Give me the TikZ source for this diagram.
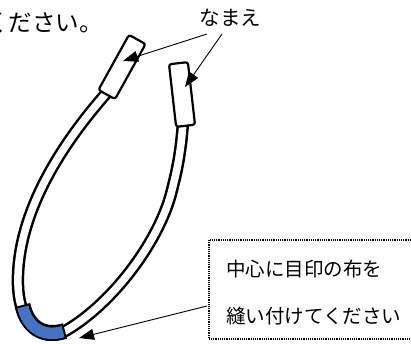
\documentclass[tikz,border=0pt]{standalone}
\usepackage{fontspec}
\newfontfamily\jp{Noto Sans CJK JP}
\usetikzlibrary{arrows.meta}
\definecolor{patchblue}{RGB}{68,114,196}
\begin{document}
\begin{tikzpicture}[x=1pt,y=-1pt,
  tag/.style={draw,line width=2.2pt,fill=white,rounded corners=2.5pt,
              minimum width=19pt,minimum height=63pt,inner sep=0pt},
  pointer/.style={line width=0.9pt,-{Triangle[length=15pt,width=11pt]}},
  bandout/.style={line width=12.5pt,black},
  bandin/.style={line width=7.5pt,white},
  notebox/.style={draw,line width=1.6pt,dash pattern=on 1.2pt off 1pt,
                  minimum width=210pt,minimum height=99pt,inner sep=0pt,anchor=north west},
  txt/.style={inner sep=0pt}]
\useasboundingbox (0,0) rectangle (411,344);
\def\bandpath{(112,87) .. controls (55,150) and (20,215) .. (18,275)
  .. controls (17.5,290) and (19,300) .. (22,309)
  .. controls (28,330) and (48,342) .. (67,330)
  .. controls (114,302) and (160,240) .. (172,190)
  .. controls (177,170) and (182,150) .. (184,105)}
\def\patchpath{(22.5,305) .. controls (27,326) and (42,338) .. (65,331)}
% ring band
\draw[bandout] \bandpath;
\draw[bandin] \bandpath;
% blue mark on the band
\draw[line width=16pt,black] \patchpath;
\draw[line width=11.5pt,patchblue,shorten <=2pt,shorten >=2pt] \patchpath;
% name tags
\node[tag,rotate=-29] (tagA) at (122,67) {};
\node[tag,rotate=6.5] (tagB) at (182,94.5) {};
% texts
\node[txt,anchor=base east,font=\jp\fontsize{23.5}{23.5}\selectfont] (top) at (103,32) {ください。};
\node[txt,anchor=base west,font=\jp\fontsize{20.5}{20.5}\selectfont] (name) at (199.5,26) {なまえ};
\node[notebox] (box) at (208,239) {};
\node[txt,anchor=base west,font=\jp\fontsize{19.5}{19.5}\selectfont] (l1) at (226,276) {中心に目印の布を};
\node[txt,anchor=base west,font=\jp\fontsize{19.5}{19.5}\selectfont] (l2) at (226,323) {縫い付けてください};
% arrows
\coordinate (n1) at (207,34);
\coordinate (n2) at (222,34);
\coordinate (tipA) at (123,61);
\coordinate (tipB) at (185,87);
\coordinate (b1) at (207,306);
\coordinate (tipC) at (79,338);
\draw[pointer] (n1) -- (tipA);
\draw[pointer] (n2) -- (tipB);
\draw[pointer] (b1) -- (tipC);
\end{tikzpicture}
\end{document}
